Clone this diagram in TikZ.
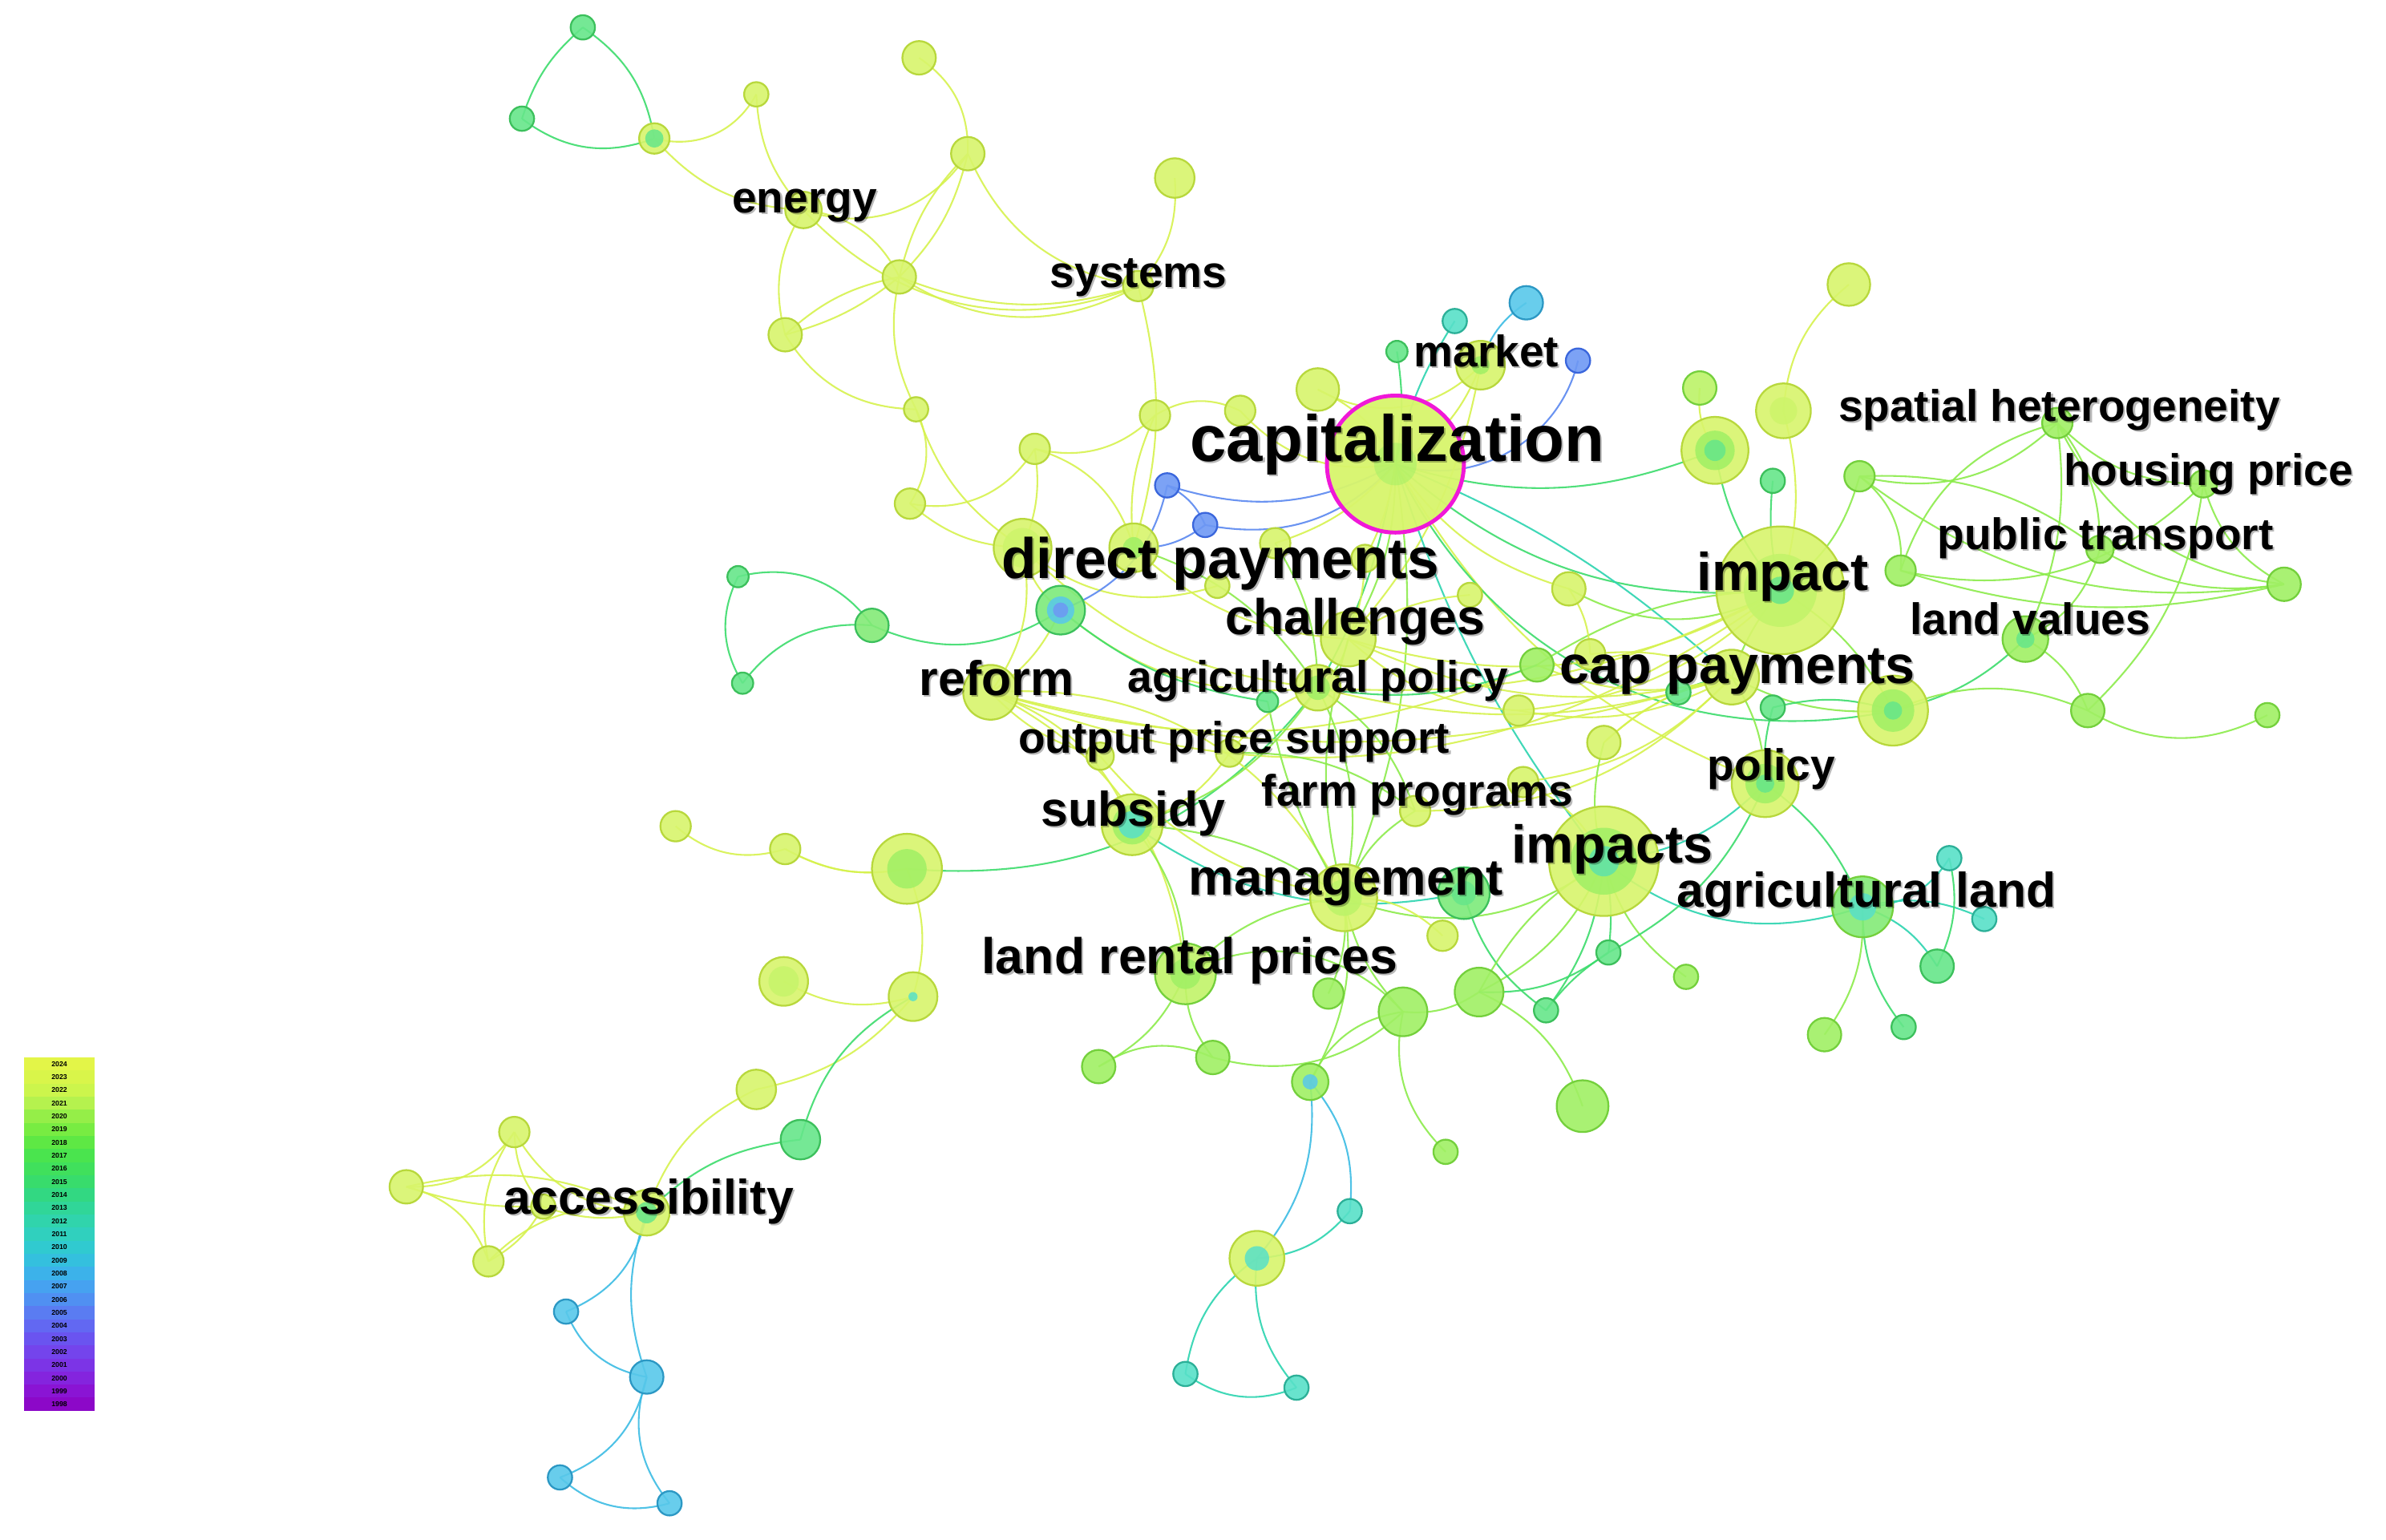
\documentclass[tikz,border=0pt]{standalone}
\usepackage{fontspec}
\setmainfont{Liberation Sans}
\begin{document}
\definecolor{EY}{HTML}{D6F24E}
\definecolor{EL}{HTML}{8CEC4C}
\definecolor{EG}{HTML}{3CDC6C}
\definecolor{ET}{HTML}{2CD4B0}
\definecolor{EC}{HTML}{3CBCE4}
\definecolor{EB}{HTML}{5A88F0}
\definecolor{NY}{HTML}{D8F56C}
\definecolor{BY}{HTML}{B8D83C}
\definecolor{NL}{HTML}{A0F064}
\definecolor{BL}{HTML}{74D03C}
\definecolor{NG}{HTML}{66E68A}
\definecolor{BG}{HTML}{3CC05C}
\definecolor{NT}{HTML}{58E0C8}
\definecolor{BT}{HTML}{2CB098}
\definecolor{NC}{HTML}{58C8EA}
\definecolor{BC}{HTML}{2C98C4}
\definecolor{NB}{HTML}{6E98F4}
\definecolor{BB}{HTML}{3A66DC}
\definecolor{MAG}{HTML}{F018D8}
\tikzset{
  ed/.style={line width=1.1pt, draw=#1, opacity=0.9},
  lab/.style={inner sep=0pt, anchor=base west, text=black},
  labsh/.style={inner sep=0pt, anchor=base west, text=black, opacity=0.28},
}
\newcommand{\kw}[4]{\filldraw[fill=#3, draw=#4, line width=1.2pt, fill opacity=0.9] (#1) circle (#2pt);}
\newcommand{\kwin}[3]{\fill[#3, opacity=0.85] (#1) circle (#2pt);}
\newcommand{\fs}[1]{\fontsize{#1}{#1}\selectfont}
\newcommand{\lbl}[5]{%
  \node[labsh, font=\bfseries\fs{#4}] (#1s) at (#2+1.1,#3+1.1) {#5};
  \node[lab, font=\bfseries\fs{#4}] (#1) at (#2,#3) {#5};}
\begin{tikzpicture}[x=1pt,y=-1pt]
\useasboundingbox (0,0) rectangle (1568,1012);
\fill[white] (0,0) rectangle (1568,1012);
% ---------- coordinates ----------
\foreach \n/\x/\y in {a1/383/18, a2/343/78, a3/430/91, a4/497/62, a5/604/38, a6/636/101, a7/772/117,
 en/528/138, a8/591/182, sy/748/188, a9/516/220, a10/602/269, a11/598/331, a12/680/295, a13/759/273,
 a14/815/270, a15/866/256, dp1/672/360, dp2/745/360, dp3/697/401, b1/767/319, b2/792/345, dp4/838/357,
 cap/917/305, mk/973/240, m1/918/231, m2/956/211, m3/1003/199, m4/1037/237, c1/897/367, c2/966/391,
 c3/1031/387, ch/886/420, c4/800/385, l1/485/379, l2/573/411, l3/488/449, rf/651/455, ap/866/452,
 ap2/833/461, op1/723/497, op2/808/495, sb/744/542, l4/596/571, l5/444/543, l6/516/558, l7/515/645,
 l8/600/655, l9/497/716, l10/526/749, ac/425/797, l11/338/744, l12/267/780, l13/357/793, l14/321/829,
 c6/372/862, c7/425/905, c8/368/971, c9/440/988, mg/883/590, lr/779/640, mg2/962/587, f1/948/615,
 f2/873/653, f3/922/665, f4/972/652, f5/722/701, f6/797/695, f7/861/711, f8/887/796, f9/826/827,
 f10/779/903, f11/852/912, f12/950/757, f13/1040/727, f14/1016/664, im/1054/566, f15/1057/626,
 f16/1108/642, al/1224/596, g1/1281/564, g2/1304/604, g3/1273/635, g4/1199/680, g5/1251/675,
 po/1160/515, fp/930/533, h1/1001/514, h2/1054/488, h3/998/467, h4/1010/437, h5/1045/430,
 cp/1138/445, cp2/1103/455, cp3/1165/465, ip/1170/388, i1/1127/296, i2/1117/255, i3/1172/270,
 i4/1165/316, i5/1215/187, i6/1244/467, r1/1222/313, r2/1352/278, r3/1448/318, r4/1249/375,
 r5/1380/361, r6/1501/384, lv/1331/420, r7/1372/467, r8/1490/470}
 {\coordinate (\n) at (\x,\y);}
% ---------- edges ----------
\foreach \a/\b/\c/\k in {
 a1/a2/EG/-8, a3/a1/EG/-12, a2/a3/EG/-15,
 a3/a4/EY/-20, a3/en/EY/-12, a4/en/EY/-10, a5/a6/EY/15, a6/en/EY/20, a8/a6/EY/8, a8/a6/EY/-8,
 a6/sy/EY/-15, en/a8/EY/15, en/sy/EY/-18, en/a9/EY/-12, a8/sy/EY/-10, a8/sy/EY/-16, a9/a8/EY/8,
 a9/a8/EY/-6, a8/a10/EY/-10, a9/a10/EY/-15, sy/a7/EY/-12, sy/dp2/EY/8, a10/a11/EY/15,
 a10/dp1/EY/-10, a11/a12/EY/-18, a11/dp1/EY/-10, a12/a13/EY/-15, a13/a14/EY/15, a14/cap/EY/-15,
 a12/dp1/EY/8, a12/dp2/EY/15, a13/dp2/EY/-8, a15/cap/EY/10, a15/mk/EY/-20, c4/dp1/EY/15,
 b1/cap/EB/-12, b1/b2/EB/10, b2/dp2/EB/10, b2/cap/EB/-15, dp3/b1/EB/-15, cap/m4/EB/-25,
 m1/cap/EG/5, m2/cap/ET/-5, m3/mk/EC/-10, mk/cap/EY/10, mk/ch/EY/8,
 l1/l2/EG/18, l1/l3/EG/-15, l3/l2/EG/15, l2/dp3/EG/-15,
 dp3/rf/EY/8, dp3/dp1/EY/10, dp3/ap/EY/-12, dp1/rf/EY/12, dp2/ch/EY/-10, dp2/ap/EL/10, dp1/ap/EY/-10,
 cap/ch/EL/8, cap/ap/EG/5, cap/im/ET/-5, cap/ip/EG/-12, cap/cp/ET/5, cap/c3/EY/-10, cap/dp4/EY/8,
 cap/mg/EL/8, cap/po/EY/-10, cap/c1/EY/5, cap/i6/EG/-20, c1/ch/EY/5, c2/ch/EY/-8, dp4/ap/EL/8,
 l4/ap/EG/-15, rf/mg/EY/18, rf/lr/EY/15, rf/sb/EY/12, rf/op1/EY/-8, rf/ip/EY/-15, rf/cp/EY/-8,
 rf/h4/EY/-10, sb/mg2/ET/-12, sb/lr/EL/10, sb/ap/EL/-10, sb/op2/EY/-10, sb/mg/EL/8,
 l4/l6/EY/10, l5/l6/EY/-15, l4/l8/EY/10, l6/l4/EY/-10,
 l7/l8/EY/-12, l8/l9/EY/10, l8/l10/EG/-12, l9/ac/EY/-12, l10/ac/EG/-10, ac/l11/EY/15, ac/l12/EY/-10,
 ac/l13/EY/8, ac/l14/EY/-15, l11/l12/EY/15, l11/l13/EY/-10, l11/l14/EY/-12, l12/l14/EY/15,
 l13/l14/EY/8, l12/l13/EY/-5, ac/c6/EC/15, ac/c7/EC/-10, c6/c7/EC/-15, c7/c8/EC/15, c7/c9/EC/-15,
 c8/c9/EC/-15,
 mg/lr/EL/-10, mg/f2/EL/8, mg/f3/EL/-8, mg/f7/EL/10, mg/im/EL/-15, mg/f1/EY/12, lr/f5/EL/10,
 lr/f6/EL/-10, f5/f6/EL/15, lr/f3/EL/20, f6/f3/EL/-15, f3/f4/EL/-10, f4/im/EL/-10, f3/f7/EL/-15,
 f7/f8/EC/12, f7/f9/EC/12, f9/f8/ET/-12, f9/f10/ET/-12, f9/f11/ET/-12, f10/f11/ET/-15, f3/f12/EL/-15,
 f4/f13/EL/12, mg2/f14/EG/-10, im/f14/EG/8, im/f15/EG/5, f15/f14/EG/-5, im/f16/EL/-10, im/f4/EL/-8,
 f4/f15/EG/-10, im/po/ET/-10, im/al/ET/-15, po/al/EG/8, al/g1/ET/-15, al/g2/ET/10, al/g3/ET/10,
 al/g4/EL/10, al/g5/EG/-10, g1/g3/EG/10, po/cp3/EG/5, po/cp/EL/-8, po/f15/EG/10, cp/ip/EL/5,
 cp/i6/EL/-8, cp3/i6/EG/8, cp2/cp/EG/5, cp/h1/EY/10, cp/h2/EY/-8, cp/h4/EY/10, ip/i1/EG/8,
 ip/i3/EY/-8, ip/i4/EG/5, i3/i5/EY/12, i1/i2/EY/10, ip/r1/EL/-10, ip/i6/EL/8, ip/h3/EY/10,
 ip/ch/EY/12, ip/c3/EL/15, ip/h4/EL/-8, ip/ap/EY/8, i1/cap/EG/10,
 r1/r2/EL/-15, r1/r5/EL/10, r1/r4/EL/15, r1/r6/EL/-12, r2/r4/EL/-15, r2/r3/EL/-12, r2/r5/EL/10,
 r2/lv/EL/8, r2/r6/EL/-15, r3/r4/EL/15, r3/r6/EL/-12, r3/r7/EL/10, r5/lv/EL/12, r5/r6/EL/-10,
 lv/i6/EG/8, lv/r7/EL/10, r7/r8/EL/-15, r7/i6/EL/-12, r6/r4/EL/8,
 ch/ap/EL/10, ch/h3/EY/-10, ch/cp/EY/-10, ap/cp/EY/-8, ap/h4/EG/-8, ap/fp/EL/10, op1/mg/EY/-10,
 op2/fp/EL/10, fp/mg/EL/-10, fp/cp/EY/-12, h1/im/EY/10, h2/im/EL/-8, h2/cp/EY/8, h3/cp/EY/-10,
 ap2/dp3/EG/8, ap2/mg/EL/-5, ap/mg/EL/10, ch/mg/EL/-8, c3/h5/EY/8, h5/cp/EY/8, op2/ap/EY/8}
 {\pgfmathsetmacro{\kk}{1.9*\k}\draw[ed=\c] (\a) to[bend left=\kk] (\b);}
% ---------- nodes ----------
\kw{a1}{8}{NG}{BG} \kw{a2}{8}{NG}{BG} \kw{a3}{10}{NY}{BY} \kwin{a3}{6}{NG}
\kw{a4}{8}{NY}{BY} \kw{a5}{11}{NY}{BY} \kw{a6}{11}{NY}{BY} \kw{a7}{13}{NY}{BY}
\kw{en}{12}{NY}{BY} \kw{a8}{11}{NY}{BY} \kw{sy}{10}{NY}{BY} \kw{a9}{11}{NY}{BY}
\kw{a10}{8}{NY}{BY} \kw{a11}{10}{NY}{BY} \kw{a12}{10}{NY}{BY} \kw{a13}{10}{NY}{BY}
\kw{a14}{10}{NY}{BY} \kw{a15}{14}{NY}{BY}
\kw{dp1}{19}{NY}{BY} \kwin{dp1}{13}{NY!80!NL}
\kw{dp2}{16}{NY}{BY} \kwin{dp2}{7}{NL}
\kw{dp3}{16}{NG!60!NL}{BG} \kwin{dp3}{9}{NC} \kwin{dp3}{5}{NB}
\kw{b1}{8}{NB}{BB} \kw{b2}{8}{NB}{BB} \kw{dp4}{10}{NY}{BY}
\kw{mk}{16}{NY}{BY} \kwin{mk}{6}{NL}
\kw{m1}{7}{NG}{BG} \kw{m2}{8}{NT}{BT} \kw{m3}{11}{NC}{BC} \kw{m4}{8}{NB}{BB}
\kw{c1}{9}{NY}{BY} \kw{c2}{8}{NY}{BY} \kw{c3}{11}{NY}{BY} \kw{ch}{18}{NY}{BY} \kw{c4}{8}{NY}{BY}
\kw{l1}{7}{NG}{BG} \kw{l2}{11}{NG!50!NL}{BG} \kw{l3}{7}{NG}{BG}
\kw{rf}{18}{NY}{BY} \kw{ap}{15}{NY}{BY} \kwin{ap}{8}{NL} \kw{ap2}{7}{NG}{BG}
\kw{op1}{9}{NY}{BY} \kw{op2}{9}{NY}{BY}
\kw{sb}{20}{NY}{BY} \kwin{sb}{13}{NL} \kwin{sb}{9}{NT}
\kw{l4}{23}{NY}{BY} \kwin{l4}{13}{NL}
\kw{l5}{10}{NY}{BY} \kw{l6}{10}{NY}{BY}
\kw{l7}{16}{NY}{BY} \kwin{l7}{10}{NY!70!NL}
\kw{l8}{16}{NY}{BY} \kwin{l8}{3}{NT}
\kw{l9}{13}{NY}{BY} \kw{l10}{13}{NG}{BG}
\kw{ac}{15}{NY}{BY} \kwin{ac}{7}{NG}
\kw{l11}{10}{NY}{BY} \kw{l12}{11}{NY}{BY} \kw{l13}{8}{NY}{BY} \kw{l14}{10}{NY}{BY}
\kw{c6}{8}{NC}{BC} \kw{c7}{11}{NC}{BC} \kw{c8}{8}{NC}{BC} \kw{c9}{8}{NC}{BC}
\kw{mg}{22}{NY}{BY} \kwin{mg}{12}{NY!50!NL}
\kw{lr}{20}{NY!60!NL}{BL} \kwin{lr}{10}{NL}
\kw{mg2}{17}{NG!60!NL}{BG} \kwin{mg2}{8}{NG}
\kw{f1}{10}{NY}{BY} \kw{f2}{10}{NL}{BL} \kw{f3}{16}{NL}{BL} \kw{f4}{16}{NL}{BL}
\kw{f5}{11}{NL}{BL} \kw{f6}{11}{NL}{BL} \kw{f7}{12}{NL}{BL} \kwin{f7}{5}{NC}
\kw{f8}{8}{NT}{BT} \kw{f9}{18}{NY}{BY} \kwin{f9}{8}{NT} \kw{f10}{8}{NT}{BT} \kw{f11}{8}{NT}{BT}
\kw{f12}{8}{NL}{BL} \kw{f13}{17}{NL}{BL} \kw{f14}{8}{NG}{BG}
\kw{im}{36}{NY}{BY} \kwin{im}{22}{NL} \kwin{im}{10}{NG!50!NT}
\kw{f15}{8}{NG}{BG} \kw{f16}{8}{NL}{BL}
\kw{al}{20}{NG!50!NL}{BL} \kwin{al}{9}{NT}
\kw{g1}{8}{NT}{BT} \kw{g2}{8}{NT}{BT} \kw{g3}{11}{NG}{BG} \kw{g4}{11}{NL}{BL} \kw{g5}{8}{NG}{BG}
\kw{po}{22}{NY}{BY} \kwin{po}{13}{NL} \kwin{po}{6}{NG}
\kw{fp}{10}{NY}{BY} \kw{h1}{10}{NY}{BY} \kw{h2}{11}{NY}{BY} \kw{h3}{10}{NY}{BY}
\kw{h4}{11}{NL}{BL} \kw{h5}{10}{NY}{BY}
\kw{cp}{18}{NY}{BY} \kw{cp2}{8}{NG}{BG} \kw{cp3}{8}{NG}{BG}
\kw{ip}{42}{NY}{BY} \kwin{ip}{24}{NY!60!NL} \kwin{ip}{9}{NG}
\kw{i1}{22}{NY}{BY} \kwin{i1}{13}{NL} \kwin{i1}{7}{NG}
\kw{i2}{11}{NL!50!NY}{BL} \kw{i3}{18}{NY}{BY} \kwin{i3}{9}{NY!80!NL} \kw{i4}{8}{NG}{BG}
\kw{i5}{14}{NY}{BY}
\kw{i6}{23}{NY}{BY} \kwin{i6}{14}{NL} \kwin{i6}{6}{NG}
\kw{r1}{10}{NL}{BL} \kw{r2}{10}{NL}{BL} \kw{r3}{9}{NL}{BL} \kw{r4}{10}{NL}{BL}
\kw{r5}{9}{NL}{BL} \kw{r6}{11}{NL}{BL} \kw{lv}{15}{NL}{BL} \kwin{lv}{6}{NG}
\kw{r7}{11}{NL}{BL} \kw{r8}{8}{NL}{BL}
% central node
\filldraw[fill=NY, draw=MAG, line width=2.6pt, fill opacity=0.95] (cap) circle (45pt);
\fill[NL, opacity=0.5] (cap) circle (14pt);
% ---------- labels ----------
\lbl{tcap}{782}{303}{43}{capitalization}
\lbl{tdp}{658}{380}{37.5}{direct payments}
\lbl{tip}{1115}{388}{35}{impact}
\lbl{tcp}{1025}{449}{35}{cap payments}
\lbl{tim}{993}{567}{35}{impacts}
\lbl{tch}{805}{417}{33}{challenges}
\lbl{trf}{604}{457}{32}{reform}
\lbl{tsb}{684}{543}{32}{subsidy}
\lbl{tmg}{781}{588}{33.5}{management}
\lbl{tlr}{645}{640}{33}{land rental prices}
\lbl{tac}{331}{798}{32}{accessibility}
\lbl{tal}{1102}{596}{32}{agricultural land}
\lbl{tap}{741}{455}{29}{agricultural policy}
\lbl{top}{669}{495}{29}{output price support}
\lbl{tfp}{829}{530}{29}{farm programs}
\lbl{tpo}{1122}{513}{29}{policy}
\lbl{ten}{481}{140}{29}{energy}
\lbl{tsy}{690}{189}{29}{systems}
\lbl{tmk}{929}{241}{29}{market}
\lbl{tsh}{1208}{277}{29}{spatial heterogeneity}
\lbl{thp}{1356}{319}{29}{housing price}
\lbl{tpt}{1273}{361}{29}{public transport}
\lbl{tlv}{1255}{417}{29}{land values}
% ---------- legend ----------
\foreach \i/\yr/\col in {0/2024/E3F548, 1/2023/D9F54A, 2/2022/CCF54C, 3/2021/B5F24E, 4/2020/95EE48,
 5/2019/78EC42, 6/2018/5EE844, 7/2017/4AE44E, 8/2016/40E05C, 9/2015/38DC6C, 10/2014/32D882,
 11/2013/30D698, 12/2012/30D4AC, 13/2011/30D0BE, 14/2010/30CAD0, 15/2009/34C0DE, 16/2008/3CB2EA,
 17/2007/46A2F0, 18/2006/5090F2, 19/2005/5A7CF2, 20/2004/6268F2, 21/2003/6A54F0, 22/2002/7444EC,
 23/2001/7C34E6, 24/2000/8424DE, 25/1999/8A14D4, 26/1998/8C08C8}
{
  \definecolor{lgc}{HTML}{\col}
  \fill[lgc] (16,{695+\i*8.6}) rectangle (62,{695+(\i+1)*8.6+0.3});
  \node[inner sep=0pt, font=\bfseries\fs{4.6}] (ly\i) at (39,{695+(\i+0.5)*8.6}) {\yr};
}
\end{tikzpicture}
\end{document}
